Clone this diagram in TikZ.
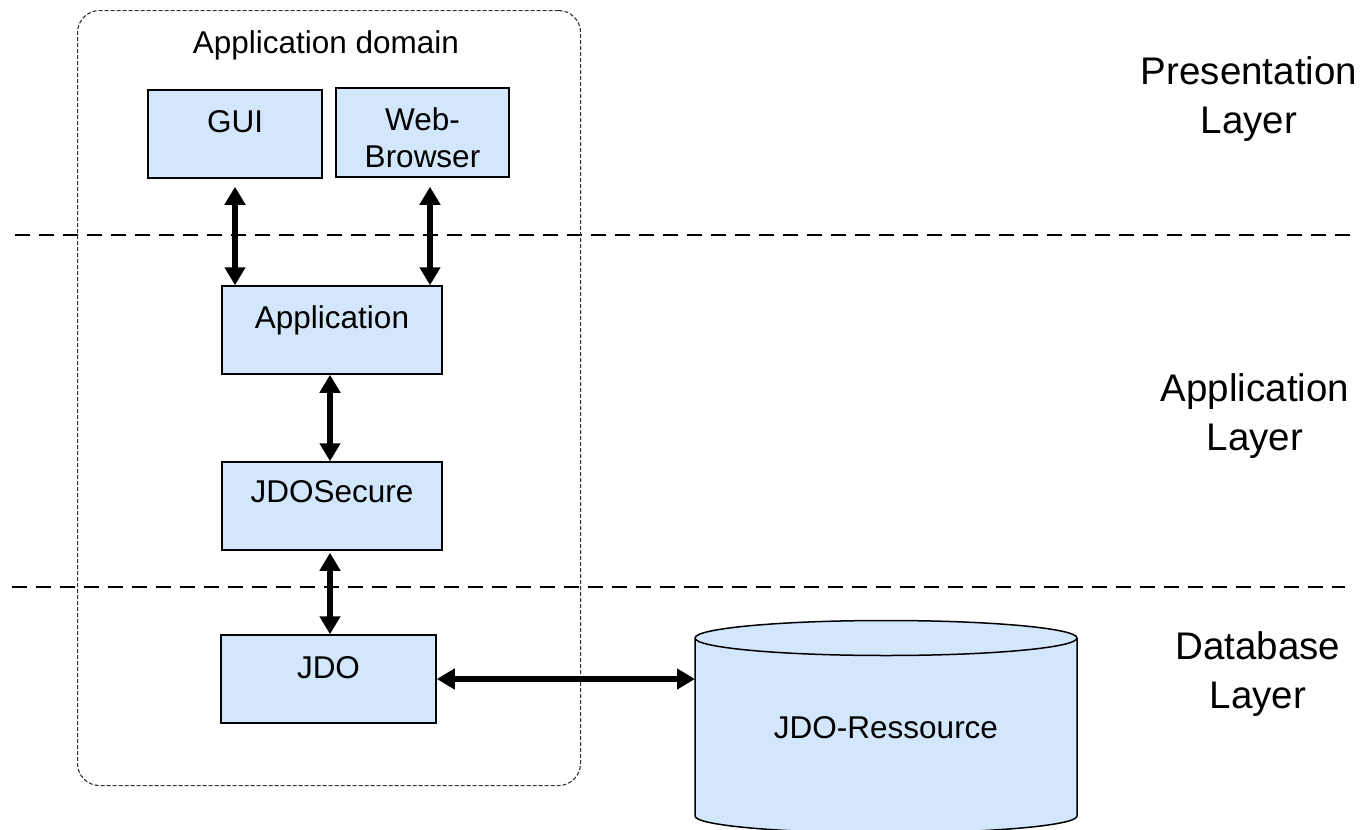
\documentclass[tikz,border=0pt]{standalone}
\usepackage{fontspec}
\setmainfont{Liberation Sans}
\usetikzlibrary{arrows.meta}
\definecolor{boxfill}{HTML}{D2E6FC}
\begin{document}
\begin{tikzpicture}[x=1pt,y=-1pt,
  boxnode/.style={draw=black, line width=1.5pt, fill=boxfill, inner xsep=0pt, inner ysep=0pt,
    font=\fontsize{31.5}{37}\selectfont, anchor=base, align=center},
  link/.style={line width=6pt, {Triangle[width=20pt,length=18pt]}-{Triangle[width=20pt,length=18pt]}},
  layersep/.style={line width=2pt, dash pattern=on 15pt off 9pt},
  layerlabel/.style={font=\fontsize{38.5}{49}\selectfont, align=center, anchor=base},
  domainbox/.style={draw=black!80, line width=1.1pt, dash pattern=on 4pt off 2pt, rounded corners=22pt,
    inner sep=0pt, anchor=north west},
  ]
\useasboundingbox (0,0) rectangle (1361,830);

% layer separators
\draw[layersep] (15,235) -- (1350,235);
\draw[layersep] (12,587) -- (1345,587);

% application domain
\node[domainbox, minimum width=503pt, minimum height=775pt] (domain) at (77,10) {};
\node[font=\fontsize{31.5}{37}\selectfont, anchor=base] (domtitle) at (326,53) {Application domain};

% boxes
\node[boxnode, minimum width=174pt, text height=42pt, text depth=46pt] (gui) at (235,132) {GUI};
\node[boxnode, minimum width=173pt, text height=79pt, text depth=10pt] (web) at (422.5,167) {Web-\\Browser};
\node[boxnode, minimum width=220pt, text height=42pt, text depth=46pt] (app) at (332,328) {Application};
\node[boxnode, minimum width=220pt, text height=40pt, text depth=48pt] (sec) at (332,502) {JDOSecure};
\node[boxnode, minimum width=215pt, text height=43pt, text depth=45pt] (jdo) at (328.5,678) {JDO};

% database cylinder
\fill[boxfill] (695,638) -- (695,816) arc[start angle=180, end angle=0, x radius=191, y radius=17]
  -- (1077,638) arc[start angle=0, end angle=-180, x radius=191, y radius=17.5] -- cycle;
\draw[line width=1.5pt] (695,638) -- (695,816) arc[start angle=180, end angle=0, x radius=191, y radius=17]
  -- (1077,638) arc[start angle=0, end angle=-180, x radius=191, y radius=17.5];
\draw[line width=1.5pt] (695,638) arc[start angle=180, end angle=0, x radius=191, y radius=17.5];
\node[font=\fontsize{31.5}{37}\selectfont, anchor=base] (res) at (886,738) {JDO-Ressource};
\coordinate (resw) at (695,679);

% connectors
\draw[link, shorten <=8pt] (gui.south) -- (gui.south |- app.north);
\draw[link, shorten <=9pt] ([xshift=7.5pt]web.south) -- ([xshift=7.5pt]web.south |- app.north);
\draw[link] ([xshift=-2pt]app.south) -- ([xshift=-2pt]sec.north);
\draw[link, shorten <=2pt] ([xshift=-2pt]sec.south) -- ([xshift=-2pt]sec.south |- jdo.north);
\draw[link] (jdo.east) -- (resw);

% layer labels
\node[layerlabel] (lpres) at (1249,133) {Presentation\\Layer};
\node[layerlabel] (lapp) at (1255,450) {Application\\Layer};
\node[layerlabel] (ldb) at (1258,708) {Database\\Layer};
\end{tikzpicture}
\end{document}
